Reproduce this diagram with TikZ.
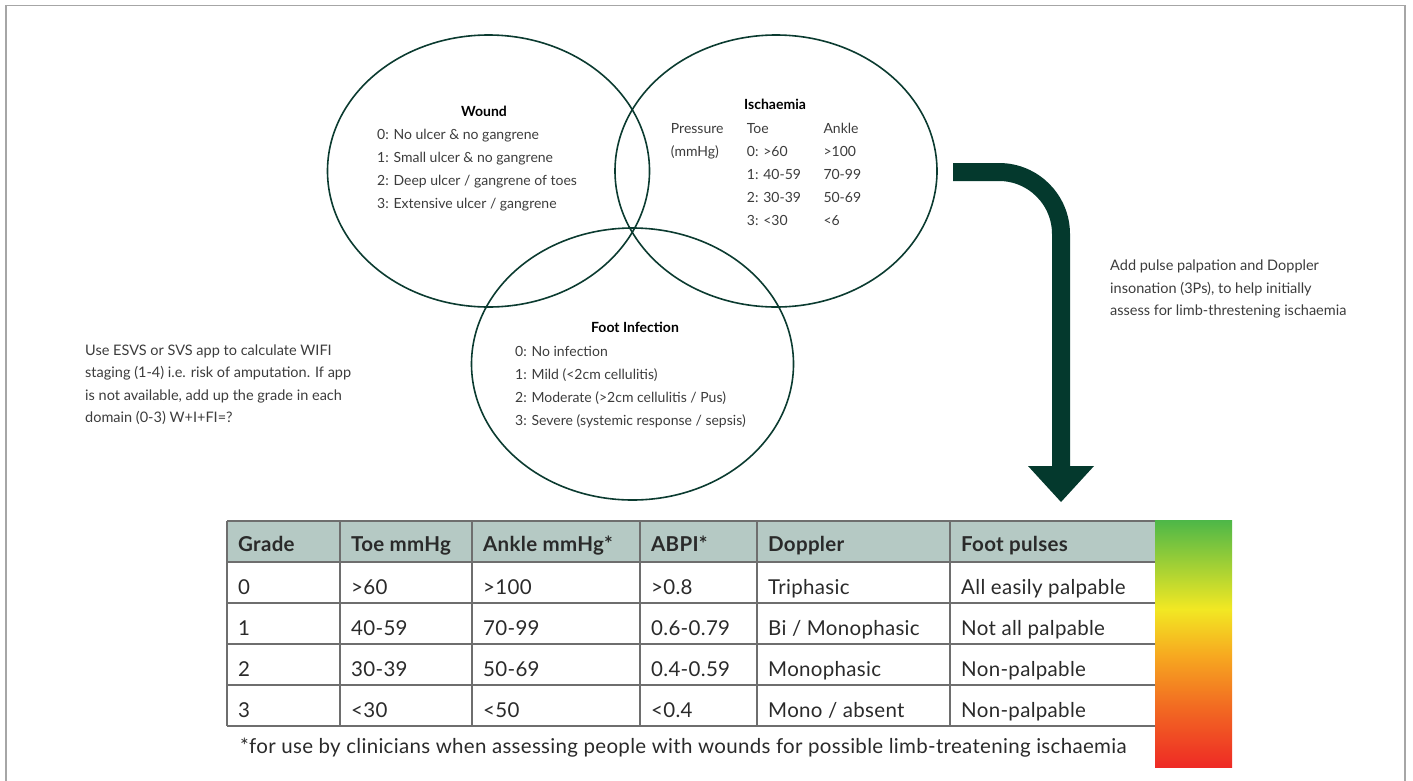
\documentclass[tikz,border=0pt]{standalone}
\usepackage{fontspec}
\setmainfont{Lato}
\usetikzlibrary{shapes.geometric}
\definecolor{dkgreen}{HTML}{0B3B30}
\definecolor{arrowgreen}{HTML}{04392D}
\definecolor{hdrfill}{HTML}{B5C9C4}
\definecolor{gridc}{HTML}{6E6E6E}
\definecolor{txt}{HTML}{3C3C3C}
\definecolor{tabtxt}{HTML}{2A2A2A}
\definecolor{frame}{HTML}{A6A6A6}
\definecolor{gGreen}{HTML}{4DB748}
\definecolor{gYel}{HTML}{F2E823}
\definecolor{gLOra}{HTML}{F7A820}
\definecolor{gOra}{HTML}{F26C22}
\definecolor{gRed}{HTML}{EE2A25}
\pgfdeclareverticalshading{wifibar}{77bp}{color(0bp)=(gRed); color(25bp)=(gRed); color(37.5bp)=(gOra); color(47.5bp)=(gLOra); color(57bp)=(gYel); color(75bp)=(gGreen); color(100bp)=(gGreen)}
\newcommand{\tabfont}{\fontsize{20.5}{22}\selectfont\addfontfeature{LetterSpace=1.5}}
\begin{document}
\begin{tikzpicture}[x=1pt,y=-1pt,
  venn/.style={draw=dkgreen,line width=1.6pt,ellipse,minimum width=322pt,minimum height=272pt,inner sep=0pt},
  vtitle/.style={font=\fontsize{14}{16}\selectfont\bfseries,text=black,anchor=base,inner sep=0pt},
  vtext/.style={font=\fontsize{14}{23}\selectfont,text=txt,anchor=base west,inner sep=0pt},
  notetext/.style={font=\fontsize{14.5}{22.5}\selectfont,text=txt,anchor=base west,inner sep=0pt},
  cell/.style={font=\tabfont,text=tabtxt,anchor=base west,inner sep=0pt},
  headcell/.style={font=\tabfont\bfseries,text=tabtxt,anchor=base west,inner sep=0pt},
  grid/.style={draw=gridc,line width=1.2pt},
]
\useasboundingbox (0,0) rectangle (1413,780);
% frame
\draw[frame,line width=1.4pt] (6,800) -- (6,5.5) -- (1405,5.5) -- (1405,800);

% Venn ellipses
\node[venn] (wound) at (488.5,171) {};
\node[venn] (isch) at (776,171) {};
\node[venn] (foot) at (632.5,364) {};

% Wound
\node[vtitle] (woundT) at (484,116) {Wound};
\node[vtext] (woundL) at (377,139) {\begin{tabular}[t]{@{}l@{}}0: No ulcer \& no gangrene\\1: Small ulcer \& no gangrene\\2: Deep ulcer / gangrene of toes\\3: Extensive ulcer / gangrene\end{tabular}};

% Ischaemia
\node[vtitle] (ischT) at (775,109) {Ischaemia};
\node[vtext] (ischL) at (670.7,133) {\begin{tabular}[t]{@{}p{76pt}@{}p{76.6pt}@{}l@{}}Pressure & Toe & Ankle\\(mmHg) & 0: >60 & >100\\ & 1: 40-59 & 70-99\\ & 2: 30-39 & 50-69\\ & 3: <30 & <6\end{tabular}};

% Foot infection
\node[vtitle] (footT) at (635,332) {Foot Infection};
\node[vtext] (footL) at (515,356) {\begin{tabular}[t]{@{}l@{}}0: No infection\\1: Mild (<2cm cellulitis)\\2: Moderate (>2cm cellulitis / Pus)\\3: Severe (systemic response / sepsis)\end{tabular}};

% side notes
\node[notetext] (leftnote) at (85,355) {\begin{tabular}[t]{@{}l@{}}Use ESVS or SVS app to calculate WIFI\\staging (1-4) i.e. risk of amputation. If app\\is not available, add up the grade in each\\domain (0-3) W+I+FI=?\end{tabular}};
\node[notetext] (rightnote) at (1110,270.5) {\begin{tabular}[t]{@{}l@{}}Add pulse palpation and Doppler\\insonation (3Ps), to help initially\\assess for limb-threstening ischaemia\end{tabular}};

% big arrow
\coordinate (arrS) at (953,172);
\coordinate (arrE) at (1061,467);
\coordinate (tipL) at (1028,466);
\coordinate (tipR) at (1094,466);
\coordinate (tip) at (1061,502);
\draw[arrowgreen,line width=18pt,rounded corners=62pt] (arrS) -| (arrE);
\fill[arrowgreen] (tipL) -- (tipR) -- (tip) -- cycle;

% table
\fill[hdrfill] (227,521) rectangle (1155,562);
\foreach \yy in {521,562,603,644,685,726} \draw[grid] (227,\yy) -- (1155,\yy);
\foreach \xx in {227,340,472,640,757,950} \draw[grid] (\xx,521) -- (\xx,726);

\node[headcell] (h1) at (238,551) {Grade};
\node[headcell] (h2) at (351,551) {Toe mmHg};
\node[headcell] (h3) at (483,551) {Ankle mmHg*};
\node[headcell] (h4) at (651,551) {ABPI*};
\node[headcell] (h5) at (768,551) {Doppler};
\node[headcell] (h6) at (961,551) {Foot pulses};

\node[cell] (r0c1) at (238,594) {0};
\node[cell] (r0c2) at (351,594) {>60};
\node[cell] (r0c3) at (483,594) {>100};
\node[cell] (r0c4) at (651,594) {>0.8};
\node[cell] (r0c5) at (768,594) {Triphasic};
\node[cell] (r0c6) at (961,594) {All easily palpable};

\node[cell] (r1c1) at (238,635) {1};
\node[cell] (r1c2) at (351,635) {40-59};
\node[cell] (r1c3) at (483,635) {70-99};
\node[cell] (r1c4) at (651,635) {0.6-0.79};
\node[cell] (r1c5) at (768,635) {Bi / Monophasic};
\node[cell] (r1c6) at (961,635) {Not all palpable};

\node[cell] (r2c1) at (238,676) {2};
\node[cell] (r2c2) at (351,676) {30-39};
\node[cell] (r2c3) at (483,676) {50-69};
\node[cell] (r2c4) at (651,676) {0.4-0.59};
\node[cell] (r2c5) at (768,676) {Monophasic};
\node[cell] (r2c6) at (961,676) {Non-palpable};

\node[cell] (r3c1) at (238,717) {3};
\node[cell] (r3c2) at (351,717) {<30};
\node[cell] (r3c3) at (483,717) {<50};
\node[cell] (r3c4) at (651,717) {<0.4};
\node[cell] (r3c5) at (768,717) {Mono / absent};
\node[cell] (r3c6) at (961,717) {Non-palpable};

\node[cell] (footnote) at (240,753) {*for use by clinicians when assessing people with wounds for possible limb-treatening ischaemia};

% gradient bar
\shade[shading=wifibar] (1155,520) rectangle (1232,767);
\end{tikzpicture}
\end{document}
